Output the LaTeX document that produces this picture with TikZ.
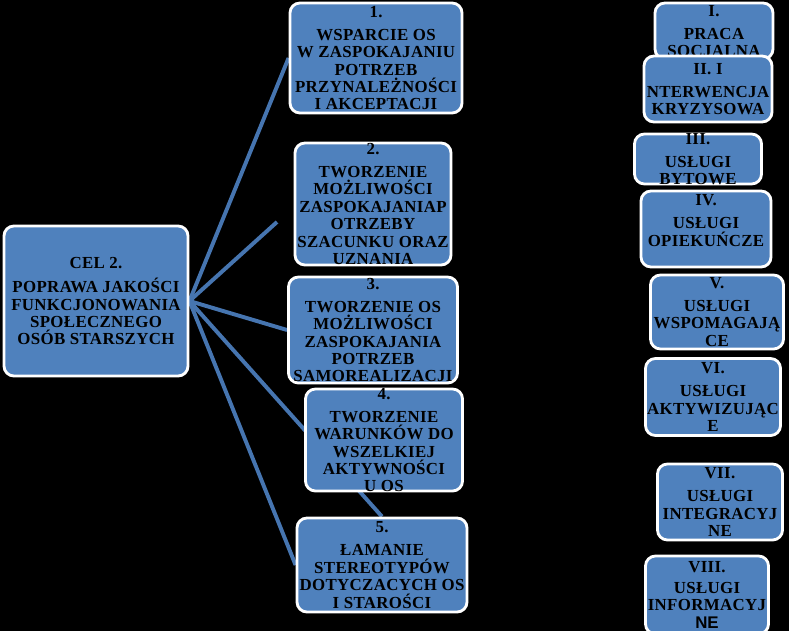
\documentclass[tikz,border=0pt]{standalone}
\usepackage{fontspec}
\setmainfont{Liberation Serif}[LetterSpace=2]
\newfontfamily\nefont{Liberation Sans}
\definecolor{boxblue}{RGB}{79,129,189}
\definecolor{lineblue}{RGB}{70,117,176}
\pgfdeclarelayer{back}
\pgfdeclarelayer{edges}
\pgfsetlayers{back,edges,main}
\newcommand{\btxt}[3]{\parbox[c][#2][c]{#1}{\centering #3}}
\tikzset{box/.style={draw=white,line width=2pt,fill=boxblue,rounded corners=0.25cm,inner sep=0pt,
    font=\bfseries\fontsize{12pt}{12.4pt}\selectfont},
  edge/.style={draw=lineblue,line width=2.8pt}}

\begin{document}
\begin{tikzpicture}[x=0.025cm,y=-0.025cm]
	\useasboundingbox (0,0) rectangle (789,631);
	\begin{pgfonlayer}{back}
		\fill[black] (0,0) rectangle (789,631);
	\end{pgfonlayer}

	\node[box] (root) at (96,301) {\btxt{4.6cm}{3.75cm}{CEL 2.\\[5pt] POPRAWA JAKOŚCI\\ FUNKCJONOWANIA\\ SPOŁECZNEGO\\ OSÓB STARSZYCH}};

	\node[box] (m1) at (376,58) {\btxt{4.3cm}{2.75cm}{1.\\[4pt] WSPARCIE OS\\ W ZASPOKAJANIU\\ POTRZEB\\ PRZYNALEŻNOŚCI\\ I AKCEPTACJI}};
	\node[box] (m2) at (373,204) {\btxt{3.9cm}{3.05cm}{2.\\[4pt] TWORZENIE\\ MOŻLIWOŚCI\\ ZASPOKAJANIAP\\ OTRZEBY\\ SZACUNKU ORAZ\\ UZNANIA}};
	\node[box] (m3) at (373,330) {\btxt{4.225cm}{2.65cm}{3.\\[4pt] TWORZENIE OS\\ MOŻLIWOŚCI\\ ZASPOKAJANIA\\ POTRZEB\\ SAMOREALIZACJI}};
	\node[box] (m4) at (384,440) {\btxt{3.925cm}{2.55cm}{4.\\[4pt] TWORZENIE\\ WARUNKÓW DO\\ WSZELKIEJ\\ AKTYWNOŚCI\\ U OS}};
	\node[box] (m5) at (382,565) {\btxt{4.25cm}{2.35cm}{5.\\[4pt] ŁAMANIE\\ STEREOTYPÓW\\ DOTYCZACYCH OS\\ I STAROŚCI}};

	\coordinate (e2) at (277,222);

	\begin{pgfonlayer}{edges}
		\draw[edge] (root.east) -- (m1.west);
		\draw[edge] (root.east) -- (e2);
		\draw[edge] (root.east) -- (m3.west);
		\draw[edge] (root.east) -- (m5.north);
		\draw[edge] (root.east) -- (m5.west);
	\end{pgfonlayer}

	\node[box] (r1) at (714,31) {\btxt{2.95cm}{1.4cm}{I.\\[4pt] PRACA\\ SOCJALNA}};
	\node[box] (r2) at (708,89) {\btxt{3.2cm}{1.65cm}{II. I\\[4pt] NTERWENCJA\\ KRYZYSOWA}};
	\node[box] (r3) at (698,159) {\btxt{3.175cm}{1.25cm}{III.\\[4pt] USŁUGI\\ BYTOWE}};
	\node[box] (r4) at (706,229) {\btxt{3.25cm}{1.9cm}{IV.\\[4pt] USŁUGI\\ OPIEKUŃCZE\\ \mbox{}}};
	\node[box] (r5) at (717,312) {\btxt{3.325cm}{1.85cm}{V.\\[4pt] USŁUGI\\ WSPOMAGAJĄ\\ CE}};
	\node[box] (r6) at (713,397) {\btxt{3.375cm}{1.925cm}{VI.\\[4pt] USŁUGI\\ AKTYWIZUJĄC\\ E}};
	\node[box] (r7) at (720,502) {\btxt{3.125cm}{1.9cm}{VII.\\[4pt] USŁUGI\\ INTEGRACYJ\\ NE}};
	\node[box] (r8) at (707,595) {\btxt{3.075cm}{1.95cm}{VIII.\\[2pt] USŁUGI\\ INFORMACYJ\\ {\nefont NE}}};
\end{tikzpicture}
\end{document}
